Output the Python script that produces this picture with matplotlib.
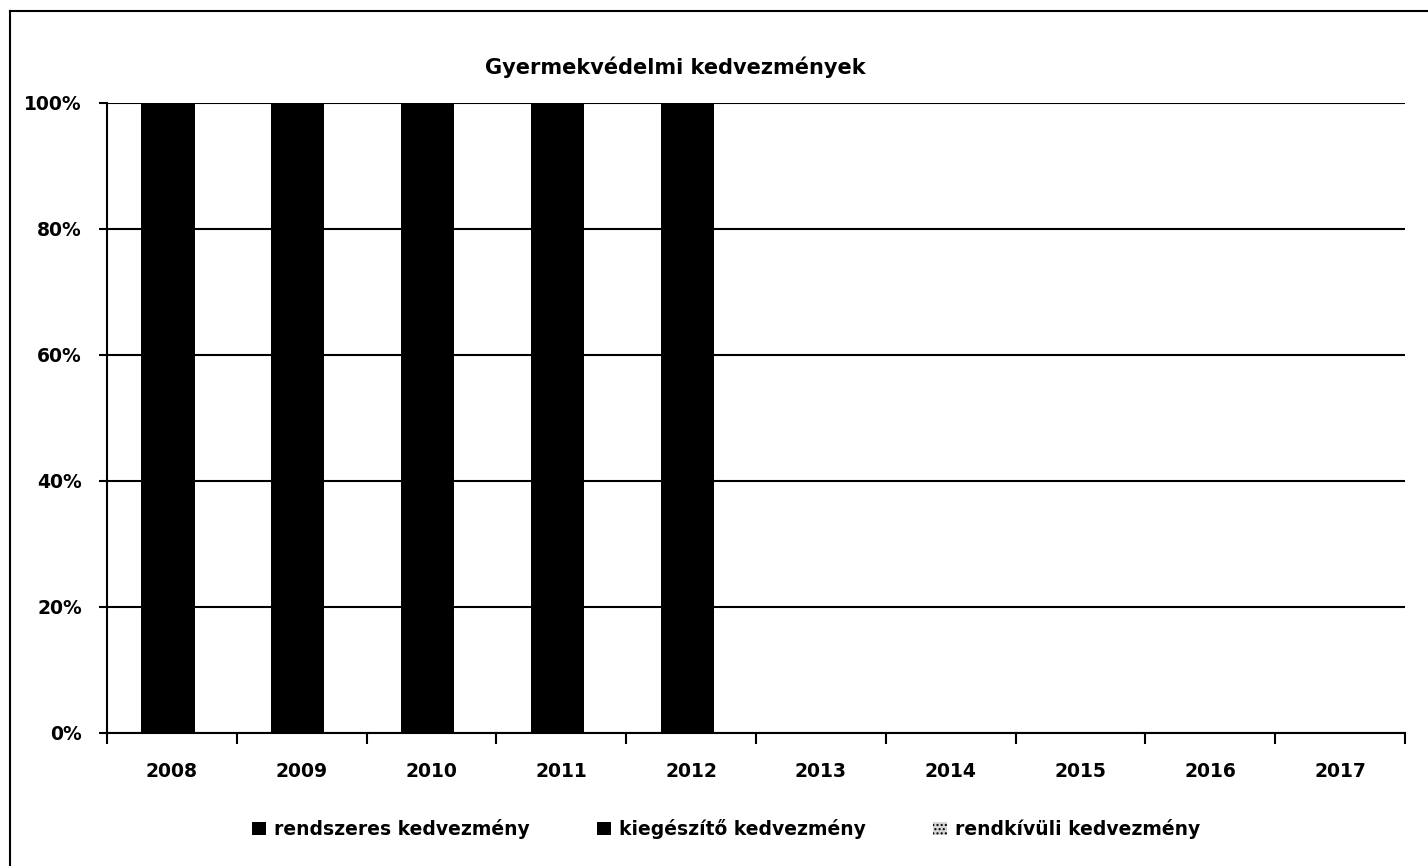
import matplotlib.pyplot as plt
from matplotlib.lines import Line2D
import numpy as np

years = ['2008', '2009', '2010', '2011', '2012', '2013', '2014', '2015', '2016', '2017']
# share of each benefit type (%), no data after 2012
rendszeres = [100, 100, 100, 100, 100, np.nan, np.nan, np.nan, np.nan, np.nan]
kiegeszito = [0, 0, 0, 0, 0, np.nan, np.nan, np.nan, np.nan, np.nan]
rendkivuli = [0, 0, 0, 0, 0, np.nan, np.nan, np.nan, np.nan, np.nan]
series_names = ['rendszeres kedvezmény', 'kiegészítő kedvezmény', 'rendkívüli kedvezmény']
y_ticks = [0, 20, 40, 60, 80, 100]

plt.rcParams['font.family'] = ['DejaVu Sans']
plt.rcParams['font.weight'] = 'bold'

fig = plt.figure(figsize=(14.28, 8.66), dpi=100)
ax = fig.add_axes([107 / 1428, 1 - 733 / 866, (1405 - 107) / 1428, (733 - 103) / 866])

x = np.arange(len(years))
w = 0.41
offset = -0.03
ax.bar(x + offset, rendszeres, w, color='black', label=series_names[0], zorder=3)
ax.bar(x + offset, kiegeszito, w, bottom=rendszeres, color='black', label=series_names[1], zorder=3)
bottom2 = np.array(rendszeres) + np.array(kiegeszito)
ax.bar(x + offset, rendkivuli, w, bottom=bottom2, color='#d8d8d8', hatch='....',
       edgecolor='black', linewidth=0, label=series_names[2], zorder=3)

ax.set_xlim(-0.5, len(years) - 0.5)
ax.set_ylim(0, 100)

# y axis
ax.set_yticks(y_ticks)
ax.set_yticklabels([f'{v}%' for v in y_ticks], fontsize=13.5, fontweight='bold')
ax.tick_params(axis='y', length=6, width=1.5, pad=12)
ax.yaxis.grid(True, color='black', linewidth=1.5, zorder=0)

# x axis: ticks at category boundaries, labels centred
ax.set_xticks(np.arange(len(years) + 1) - 0.5)
ax.set_xticklabels([])
ax.set_xticks(x, minor=True)
ax.set_xticklabels(years, minor=True, fontsize=13.5, fontweight='bold')
ax.tick_params(axis='x', which='major', length=8, width=1.5)
ax.tick_params(axis='x', which='minor', length=0, pad=21)

for s in ['top', 'right']:
    ax.spines[s].set_visible(False)
for s in ['left', 'bottom']:
    ax.spines[s].set_linewidth(1.5)
    ax.spines[s].set_color('black')

fig.text(675 / 1428, 1 - 67 / 866, 'Gyermekvédelmi kedvezmények', ha='center', va='center',
         fontsize=15, fontweight='bold')

handles, labels = ax.get_legend_handles_labels()
fig.legend(handles, labels, loc='center', bbox_to_anchor=(726 / 1428, 1 - 829 / 866), ncol=3,
           frameon=False, fontsize=13.5, handlelength=0.75, handleheight=0.75,
           handletextpad=0.4, columnspacing=3.6)

# outer chart border (left and top edges)
fig.add_artist(Line2D([10 / 1428, 10 / 1428], [0, 1 - 11 / 866], transform=fig.transFigure,
                      color='black', linewidth=1.5))
fig.add_artist(Line2D([10 / 1428, 1], [1 - 11 / 866, 1 - 11 / 866], transform=fig.transFigure,
                      color='black', linewidth=1.5))

fig.savefig('out.png', dpi=100)
